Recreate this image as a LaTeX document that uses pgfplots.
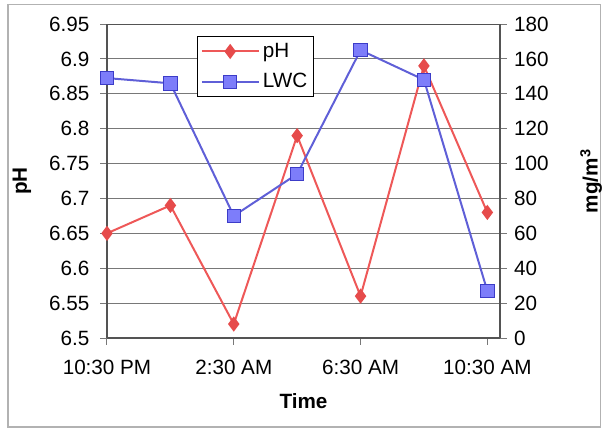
\documentclass[border=0pt]{standalone}
\usepackage{fontspec}
\setmainfont{Liberation Sans}
\usepackage{pgfplots}
\pgfplotsset{compat=1.18}
\definecolor{phred}{RGB}{238,88,88}
\definecolor{phmark}{RGB}{230,75,75}
\definecolor{lwcline}{RGB}{95,95,215}
\definecolor{lwcfill}{RGB}{125,125,250}
\definecolor{lwcedge}{RGB}{60,60,200}
\definecolor{gridgray}{RGB}{120,120,120}
\begin{document}
\begin{tikzpicture}
\useasboundingbox (-64.2pt,-54.6pt) rectangle (297pt,202.8pt);
\draw[gray!60, line width=1pt] (-59.5pt,-53.5pt) rectangle (296pt,200pt);
\pgfplotsset{
  common/.style={
    scale only axis, width=235.8pt, height=188.4pt,
    at={(0,0)}, anchor=south west,
    xmin=0, xmax=12.4,
    /pgf/number format/assume math mode=true,
    tick label style={font=\fontsize{12.4}{14}\selectfont},
    label style={font=\fontsize{12.4}{14}\selectfont\bfseries},
    tick align=outside,
    major tick length=4pt,
    tick style={gridgray, line width=0.6pt},
    axis line style={gridgray!70!black, line width=0.8pt},
    legend image code/.code={
      \draw[mark repeat=2,mark phase=2] plot coordinates {(0pt,0pt) (17pt,0pt) (34pt,0pt)};
    },
  }
}
\begin{axis}[common,
  axis y line*=left, axis x line*=bottom,
  ymin=6.5, ymax=6.95,
  ytick={6.5,6.55,...,6.95},
  yticklabel style={/pgf/number format/fixed, /pgf/number format/precision=2, xshift=-3pt},
  xticklabel style={yshift=-6pt},
  ymajorgrids, grid style={gridgray, line width=0.6pt},
  xtick={0,4,8,12},
  xticklabels={10:30 PM,2:30 AM,6:30 AM,10:30 AM},
  xlabel={Time}, ylabel={pH},
  xlabel style={yshift=-4pt},
  ylabel style={yshift=4pt},
]
\addplot[phred, line width=1.2pt, mark=diamond*, mark size=3.6pt,
  mark options={fill=phmark, draw=phmark, solid}]
  coordinates {(0,6.65) (2,6.69) (4,6.52) (6,6.79) (8,6.56) (10,6.89) (12,6.68)};
\draw[gridgray!70!black, line width=0.8pt] (rel axis cs:0,1) -- (rel axis cs:1,1);
\end{axis}
\begin{axis}[common,
  axis y line*=right, axis x line=none,
  ymin=0, ymax=180,
  ytick={0,20,...,180},
  yticklabel style={xshift=1pt},
  ylabel={mg/m\textsuperscript{3}},
  ylabel style={yshift=-12pt},
  legend style={at={(0.229,0.962)}, anchor=north west,
    draw=black, line width=0.6pt, font=\fontsize{12.4}{14}\selectfont,
    inner xsep=2pt, inner ysep=2pt, row sep=4pt},
  legend cell align=left,
]
\addlegendimage{phred, line width=1.2pt, mark=diamond*, mark size=3.6pt,
  mark options={fill=phmark, draw=phmark, solid}}
\addlegendentry{pH}
\addplot[lwcline, line width=1.2pt, mark=square*, mark size=4pt,
  mark options={fill=lwcfill, draw=lwcedge, line width=0.5pt, solid}]
  coordinates {(0,149) (2,146) (4,70) (6,94) (8,165) (10,148) (12,27)};
\addlegendentry{LWC}
\end{axis}
\end{tikzpicture}
\end{document}
